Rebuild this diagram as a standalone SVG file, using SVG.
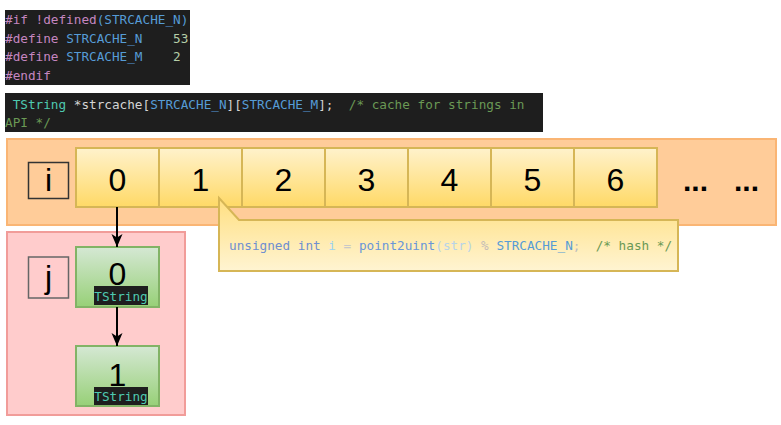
<svg xmlns="http://www.w3.org/2000/svg" width="781" height="425" viewBox="0 0 781 425">
<defs>
<style>
.code{font-family:"DejaVu Sans Mono","Liberation Mono",monospace;font-size:12.7px;white-space:pre}
.num{font-family:"Liberation Sans",Arial,sans-serif;font-size:32px;fill:#000;text-anchor:middle}
.cell{fill:url(#gy);stroke:#D6B656;stroke-width:2}
.gcell{fill:url(#gg);stroke:#82B366;stroke-width:2}
.conn{stroke:#000;stroke-width:2;fill:none;marker-end:url(#arr)}
.kw{fill:#C586C0}.bl{fill:#569CD6}.nm{fill:#B5CEA8}.ty{fill:#4EC9B0}.tx{fill:#D4D4D4}.cm{fill:#6A9955}
</style>
<linearGradient id="gy" x1="0" y1="0" x2="0" y2="1"><stop offset="0" stop-color="#FFF2CC"/><stop offset="1" stop-color="#FFD966"/></linearGradient>
<linearGradient id="gc" x1="0" y1="0" x2="0" y2="1"><stop offset="0" stop-color="#FFDF80"/><stop offset="1" stop-color="#FFF4D2"/></linearGradient>
<linearGradient id="gg" x1="0" y1="0" x2="0" y2="1"><stop offset="0" stop-color="#D5E8D4"/><stop offset="1" stop-color="#97D077"/></linearGradient>
<marker id="arr" markerUnits="userSpaceOnUse" markerWidth="14" markerHeight="14" viewBox="0 0 14 14" refX="13" refY="7" orient="auto">
<path d="M13,7 L0,1.5 L3.5,7 L0,12.5 Z" fill="#000"/>
</marker>
</defs>

<g id="code-define">
<rect x="5" y="10" width="185" height="75" fill="#1E1E1E"/>
<text class="code" x="5" y="24"><tspan class="kw">#if !defined</tspan><tspan class="bl">(STRCACHE_N)</tspan></text>
<text class="code" x="5" y="42.5"><tspan class="kw">#define</tspan><tspan class="tx"> </tspan><tspan class="bl">STRCACHE_N</tspan><tspan class="tx">    </tspan><tspan class="nm">53</tspan></text>
<text class="code" x="5" y="61"><tspan class="kw">#define</tspan><tspan class="tx"> </tspan><tspan class="bl">STRCACHE_M</tspan><tspan class="tx">    </tspan><tspan class="nm">2</tspan></text>
<text class="code" x="5" y="80"><tspan class="kw">#endif</tspan></text>
</g>

<g id="code-decl">
<rect x="5" y="93" width="538" height="39" fill="#1E1E1E"/>
<text class="code" x="5" y="109"><tspan class="tx"> </tspan><tspan class="ty">TString</tspan><tspan class="tx"> *strcache[</tspan><tspan class="bl">STRCACHE_N</tspan><tspan class="tx">][</tspan><tspan class="bl">STRCACHE_M</tspan><tspan class="tx">];  </tspan><tspan class="cm">/* cache for strings in</tspan></text>
<text class="code" x="5" y="127"><tspan class="cm">API */</tspan></text>
</g>

<g id="array-i">
<rect x="7" y="139" width="769" height="86" fill="#FFCC99" stroke="#FAB574" stroke-width="2"/>
</g>

<g id="label-i">
<rect x="28.5" y="162.5" width="40" height="36" fill="none" stroke="#333" stroke-width="1.5"/>
<text class="num" x="48.5" y="191">i</text>
</g>

<g id="cell-0"><rect class="cell" x="76" y="148" width="83" height="59"/><text class="num" x="117.5" y="191">0</text></g>
<g id="cell-1"><rect class="cell" x="159" y="148" width="83" height="59"/><text class="num" x="200.5" y="191">1</text></g>
<g id="cell-2"><rect class="cell" x="242" y="148" width="83" height="59"/><text class="num" x="283.5" y="191">2</text></g>
<g id="cell-3"><rect class="cell" x="325" y="148" width="83" height="59"/><text class="num" x="366.5" y="191">3</text></g>
<g id="cell-4"><rect class="cell" x="408" y="148" width="83" height="59"/><text class="num" x="449.5" y="191">4</text></g>
<g id="cell-5"><rect class="cell" x="491" y="148" width="83" height="59"/><text class="num" x="532.5" y="191">5</text></g>
<g id="cell-6"><rect class="cell" x="574" y="148" width="83" height="59"/><text class="num" x="615.5" y="191">6</text></g>

<g id="ellipsis">
<text x="683" y="191" font-family="'Liberation Sans',Arial,sans-serif" font-size="30" font-weight="bold" fill="#000">...</text>
<text x="734" y="191" font-family="'Liberation Sans',Arial,sans-serif" font-size="30" font-weight="bold" fill="#000">...</text>
</g>

<g id="array-j">
<rect x="7" y="232" width="178" height="183" fill="#FFCCCC" stroke="#F19C99" stroke-width="2"/>
</g>

<g id="label-j">
<rect x="28.5" y="257" width="40" height="41" fill="none" stroke="#666" stroke-width="1.5"/>
<text class="num" x="48.5" y="288">j</text>
</g>

<g id="tstring-0">
<rect class="gcell" x="76" y="247" width="83" height="60"/>
<text class="num" x="117.5" y="285">0</text>
<rect x="94" y="286" width="54" height="19" fill="#1E1E1E"/>
<text class="code ty" x="121" y="300.5" text-anchor="middle">TString</text>
</g>

<g id="tstring-1">
<rect class="gcell" x="76" y="346" width="83" height="60"/>
<text class="num" x="117.5" y="386">1</text>
<rect x="94" y="387" width="54" height="18" fill="#1E1E1E"/>
<text class="code ty" x="121" y="401" text-anchor="middle">TString</text>
</g>

<g id="callout-hash">
<path d="M219,198 L239,220 L678,220 L678,271 L219,271 Z" fill="url(#gc)" stroke="#D6B656" stroke-width="2"/>
<text class="code" x="229" y="250"><tspan fill="#6F8FD0">unsigned int</tspan><tspan> </tspan><tspan fill="#9CD3F0">i</tspan><tspan> </tspan><tspan fill="#C8C8C8">=</tspan><tspan> </tspan><tspan fill="#6A96D8">point2uint</tspan><tspan fill="#B8D4E8">(str)</tspan><tspan> </tspan><tspan fill="#C4BCB8">%</tspan><tspan> </tspan><tspan fill="#569CD6">STRCACHE_N</tspan><tspan fill="#BDBDBD">;</tspan><tspan>  </tspan><tspan fill="#6A9955">/* hash */</tspan></text>
</g>

<g id="connectors">
<path class="conn" d="M117,207 L117,247"/>
<path class="conn" d="M117,307 L117,346"/>
</g>
</svg>
